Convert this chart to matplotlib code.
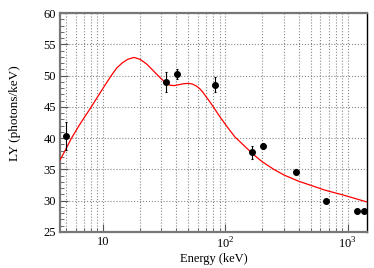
import matplotlib
matplotlib.use("Agg")
import matplotlib.pyplot as plt
from matplotlib.ticker import FixedLocator, FixedFormatter, MultipleLocator, NullFormatter

plt.rcParams['font.family'] = 'Liberation Serif'
plt.rcParams['mathtext.fontset'] = 'custom'
plt.rcParams['mathtext.rm'] = 'Liberation Serif'

# measured points
energy = [5.0, 33, 40.5, 82, 165, 204, 378, 668, 1185, 1350]
ly = [40.35, 49.0, 50.2, 48.55, 37.75, 38.7, 34.6, 29.95, 28.4, 28.4]
ly_err = [2.3, 1.55, 0.8, 1.2, 1.05, 0.5, 0.4, 0.3, 0.3, 0.3]

# fitted curve
fit_e = [4.48, 4.96, 5.56, 6.5, 8.07, 10.0, 11.75, 13.0, 14.4, 16.0, 18.0, 20.2, 23.0,
         26.7, 30.0, 33.0, 35.5, 38.5, 42, 46, 50, 54, 58, 62, 66, 70, 75, 80, 90,
         103, 120, 141, 170, 200, 250, 303, 400, 494, 650, 924, 1200, 1440]
fit_ly = [36.5, 38.1, 40.0, 42.2, 45.0, 47.9, 50.0, 51.2, 52.0, 52.6, 52.9, 52.6, 51.8,
          50.5, 49.5, 48.8, 48.45, 48.4, 48.55, 48.7, 48.75, 48.65, 48.35, 47.9, 47.3,
          46.6, 45.8, 45.0, 43.5, 41.9, 40.2, 38.9, 37.4, 36.25, 35.0, 34.1, 33.1,
          32.5, 31.7, 30.9, 30.25, 29.8]

fig = plt.figure(figsize=(3.74, 2.68), dpi=100)
ax = fig.add_axes([60/374, 1-232/268, 307/374, 219/268])

ax.plot(fit_e, fit_ly, color='red', lw=0.9, zorder=3)
ax.errorbar(energy, ly, yerr=ly_err, fmt='o', color='black', ms=4,
            elinewidth=0.8, capsize=1, capthick=0.8, zorder=4)

ax.set_xscale('log')
ax.set_xlim(4.48, 1440)
ax.set_ylim(25, 60)

ax.xaxis.set_major_locator(FixedLocator([10, 100, 1000]))
ax.xaxis.set_major_formatter(FixedFormatter(['10', '$10^2$', '$10^3$']))
minors = [m * 10**d for d in range(0, 4) for m in range(2, 10)]
ax.xaxis.set_minor_locator(FixedLocator([v for v in minors if 4.48 < v < 1440]))
ax.xaxis.set_minor_formatter(NullFormatter())
ax.yaxis.set_major_locator(MultipleLocator(5))
ax.yaxis.set_minor_locator(MultipleLocator(1))

ax.grid(True, which='major', color='#888888', ls=':', lw=0.8)
ax.grid(True, which='minor', axis='x', color='#888888', ls=':', lw=0.8)
ax.set_axisbelow(True)

ax.tick_params(which='both', direction='in', top=False, right=False,
               labelsize=9, colors='#555555', labelcolor='black')
ax.tick_params(which='major', length=6, width=0.8, pad=3)
ax.tick_params(which='minor', length=3, width=0.6)

for s in ['left', 'bottom', 'top']:
    ax.spines[s].set_color('#777777')
    ax.spines[s].set_linewidth(1.6)
ax.spines['right'].set_color('black')
ax.spines['right'].set_linewidth(1.0)

ax.set_xlabel('Energy (keV)', fontsize=9, labelpad=1)
ax.set_ylabel('LY (photons/keV)', fontsize=9.5)
ax.yaxis.set_label_coords(-0.127, 0.545)

fig.savefig('out.png', dpi=100)
